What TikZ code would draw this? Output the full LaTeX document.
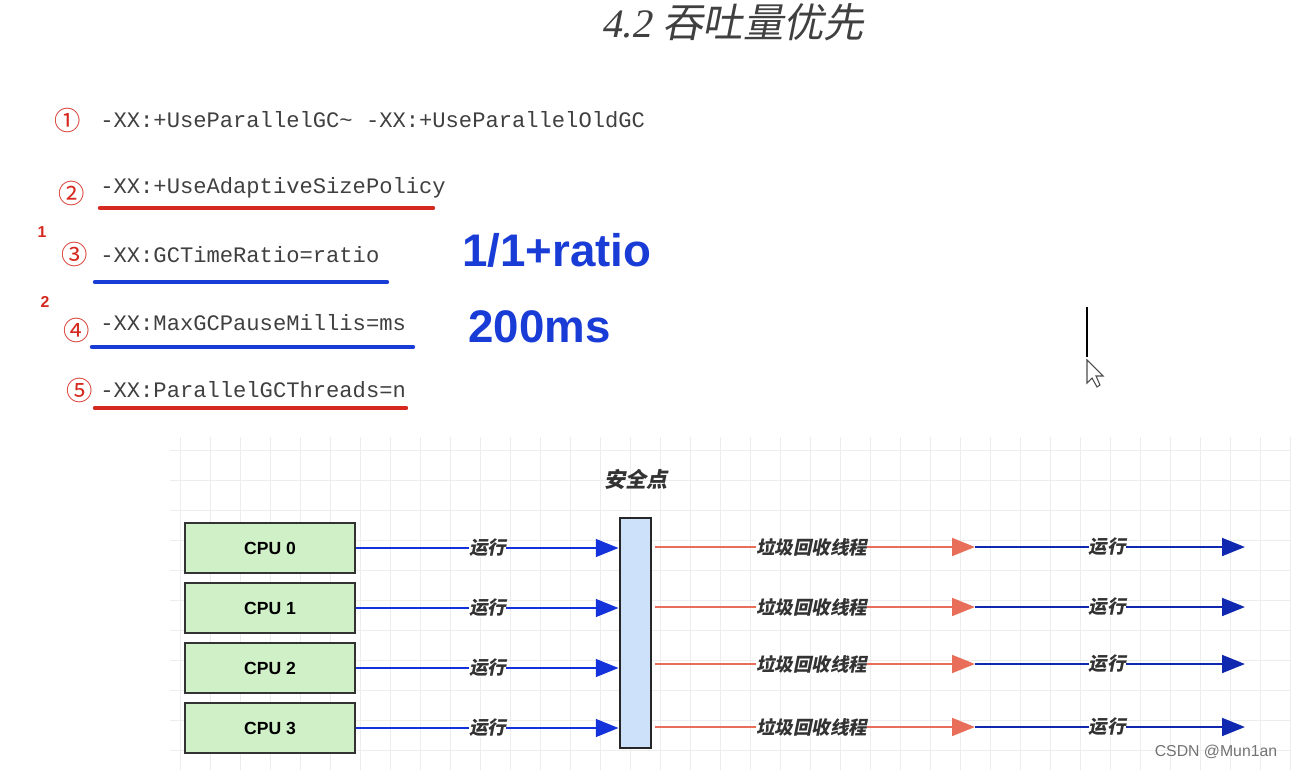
\documentclass[tikz,border=0pt]{standalone}
\usepackage{fontspec}
\setmainfont{Liberation Sans}
\setmonofont{Liberation Mono}
\newfontfamily\cjk{Noto Sans CJK SC}
\newfontfamily\cjkslant{Noto Sans CJK SC}[FakeSlant=0.2]
\newfontfamily\serifslant{Liberation Serif}[FakeSlant=0.2]
\usetikzlibrary{arrows.meta, calc, positioning}
\definecolor{optred}{RGB}{214,40,30}
\definecolor{optblue}{RGB}{25,60,215}
\definecolor{cpugreen}{RGB}{208,240,200}
\definecolor{barblue}{RGB}{205,225,250}
\definecolor{gcred}{RGB}{232,110,90}
\definecolor{runblue}{RGB}{20,50,220}

\begin{document}
\begin{tikzpicture}[x=0.02cm, y=-0.02cm,
  every node/.style={inner sep=0pt},
  opt/.style={anchor=west, font=\ttfamily\fontsize{12.6}{12.6}\selectfont, text=black!75},
  num/.style={font=\cjk\fontsize{15}{15}\selectfont, text=optred},
  big/.style={anchor=west, font=\bfseries\fontsize{26}{26}\selectfont, text=optblue},
  cpubox/.style={draw=black!80, line width=1.6pt, fill=cpugreen, minimum width=170*0.02cm,
                 minimum height=50*0.02cm, font=\bfseries\fontsize{10}{10}\selectfont},
  lab/.style={fill=white, font=\cjkslant\bfseries\fontsize{10.5}{10.5}\selectfont, text=black!80},
  run/.style={draw=runblue, line width=1.6pt, -{Triangle[length=13pt,width=10pt]}},
  gc/.style={draw=gcred, line width=1.6pt, -{Triangle[length=13pt,width=10pt]}}]
\useasboundingbox (0,0) rectangle (1301,770);
\fill[white] (0,0) rectangle (1301,770);
% grid
\draw[black!7, step=30*0.02cm] (170,437) grid (1290,770);
% title
\node (title) at (733,22) {\color{black!75}\serifslant\fontsize{23}{23}\selectfont 4.2 \cjkslant 吞吐量优先};
% options
\node[num] (n1) at (68,120) {①};
\node[opt] (o1) at (100,120) {-XX:+UseParallelGC\textasciitilde{} -XX:+UseParallelOldGC};
\node[num] (n2) at (72,193) {②};
\node[opt] (o2) at (100,188) {-XX:+UseAdaptiveSizePolicy};
\node[num] (n3) at (75,254) {③};
\node[opt] (o3) at (100,255) {-XX:GCTimeRatio=ratio};
\node[num] (n4) at (77,330) {④};
\node[opt] (o4) at (100,323) {-XX:MaxGCPauseMillis=ms};
\node[num] (n5) at (80,390) {⑤};
\node[opt] (o5) at (100,390) {-XX:ParallelGCThreads=n};
\node[font=\bfseries\fontsize{9}{9}\selectfont, text=optred] (m1) at (42,232) {1};
\node[font=\bfseries\fontsize{9}{9}\selectfont, text=optred] (m2) at (45,302) {2};
\node[big] (ratio) at (462,250) {1/1+ratio};
\node[big] (ms) at (468,327) {200ms};
% underlines
\draw[optred, line width=2.5pt, line cap=round] (100,208) -- (433,208);
\draw[optblue, line width=2.5pt, line cap=round] (95,282) -- (387,282);
\draw[optblue, line width=2.5pt, line cap=round] (92,347) -- (413,347);
\draw[optred, line width=2.5pt, line cap=round] (95,408) -- (406,408);
% cursor
\draw[black, line width=1.5pt] (1087,307) -- (1087,357);
\draw[black!70, fill=white, line width=0.6pt] (1087,360) -- (1087,383) -- (1092,378) -- (1097,387) -- (1100,385) -- (1096,376) -- (1103,376) -- cycle;
% safepoint
\node[font=\cjkslant\bfseries\fontsize{12}{12}\selectfont, text=black!80] (sptitle) at (636,479) {安全点};
\node[draw=black!85, line width=1.6pt, fill=barblue, minimum width=31*0.02cm, minimum height=230*0.02cm] (sp) at (635.5,633) {};
% cpus and arrows
\foreach \i/\yl/\yr in {0/548/547, 1/608/607, 2/668/664, 3/728/727} {
  \node[cpubox] (cpu\i) at (270,\yl) {CPU \i};
  \draw[run] (cpu\i.east |- 0,\yl) -- node[lab, pos=0.5] {运行} (sp.west |- 0,\yl);
  \coordinate (gs\i) at (655,\yr);
  \coordinate (gm\i) at (975,\yr);
  \coordinate (ge\i) at (1245,\yr);
  \draw[gc] (gs\i) -- node[lab, pos=0.49] {垃圾回收线程} (gm\i);
  \draw[run, draw=runblue!80!black] (gm\i) -- node[lab, pos=0.49] {运行} (ge\i);
}
\node[text=black!55, font=\fontsize{9}{9}\selectfont] (csdn) at (1216,752) {CSDN @Mun1an};
\end{tikzpicture}
\end{document}
